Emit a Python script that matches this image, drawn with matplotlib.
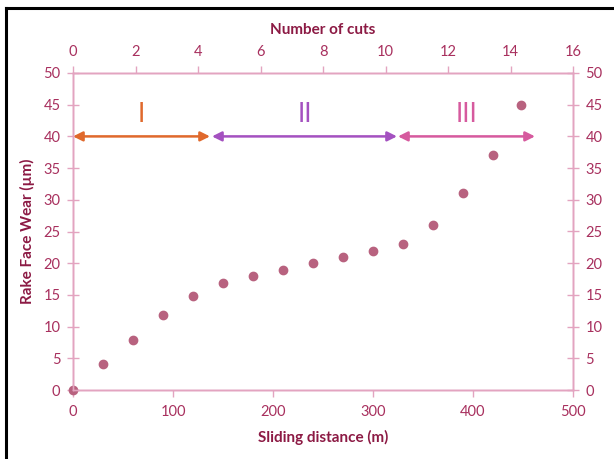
import matplotlib
matplotlib.use("Agg")
import matplotlib.pyplot as plt
from matplotlib.lines import Line2D

plt.rcParams['font.family'] = ['Lato', 'DejaVu Sans']

distance = [0, 30, 60, 90, 120, 150, 180, 210, 240, 270, 300, 330, 360, 390, 420, 448]
wear = [0, 4.1, 7.9, 11.8, 14.9, 16.9, 18.0, 19.0, 20.0, 21.0, 22.0, 23.0, 26.0, 31.0, 37.0, 44.9]
stages = ["I", "II", "III"]
stage_start = [0, 139, 325]
stage_end = [137, 324, 462]
stage_label_x = [68, 232, 394]
stage_colors = ["#e0692c", "#a451c0", "#d65a9e"]

spine_c = "#e3a4c0"
tick_c = "#a8305e"
label_c = "#8c1a44"
marker_c = "#b8627f"

fig = plt.figure(figsize=(6.14, 4.59), dpi=100)
ax = fig.add_axes([73/614, 69/459, 500/614, 317/459])

ax.plot(distance, wear, 'o', color=marker_c, markersize=6, clip_on=False, zorder=5)
ax.set_xlim(0, 500)
ax.set_ylim(0, 50)
ax.set_xticks(range(0, 501, 100))
ax.set_yticks(range(0, 51, 5))

for x0, x1, lab, lx, c in zip(stage_start, stage_end, stages, stage_label_x, stage_colors):
    ax.annotate("", xy=(x1, 40), xytext=(x0, 40),
                arrowprops=dict(arrowstyle="<|-|>", color=c, lw=1.8,
                                shrinkA=0, shrinkB=0, mutation_scale=14),
                annotation_clip=False)
    ax.text(lx, 43.4, lab, color=c, fontsize=19, ha='center', va='center')

ax2 = ax.twiny()
ax2.set_xlim(0, 16)
ax2.set_xticks(range(0, 17, 2))
ax3 = ax.twinx()
ax3.set_ylim(0, 50)
ax3.set_yticks(range(0, 51, 5))

for a in (ax, ax2, ax3):
    for s in a.spines.values():
        s.set_color(spine_c)
        s.set_linewidth(1.0)
    a.tick_params(colors=spine_c, labelcolor=tick_c, labelsize=10.5, width=1.0)

ax.tick_params(axis='x', direction='out', length=5, pad=6)
ax.tick_params(axis='y', direction='inout', length=8, pad=5)
ax2.tick_params(axis='x', direction='out', length=5, pad=5)
ax3.tick_params(axis='y', direction='inout', length=8, pad=5)

ax.set_xlabel("Sliding distance (m)", color=label_c, fontsize=11, fontweight='bold', labelpad=8)
ax.set_ylabel("Rake Face Wear (µm)", color=label_c, fontsize=11, fontweight='bold', labelpad=6)
ax2.set_xlabel("Number of cuts", color=label_c, fontsize=11, fontweight='bold', labelpad=8)

fig.add_artist(Line2D([6/614, 6/614], [0, 1 - 8/459], color='black', lw=2.2))
fig.add_artist(Line2D([6/614, 1], [1 - 8/459, 1 - 8/459], color='black', lw=2.2))

fig.savefig("out.png", dpi=100)
